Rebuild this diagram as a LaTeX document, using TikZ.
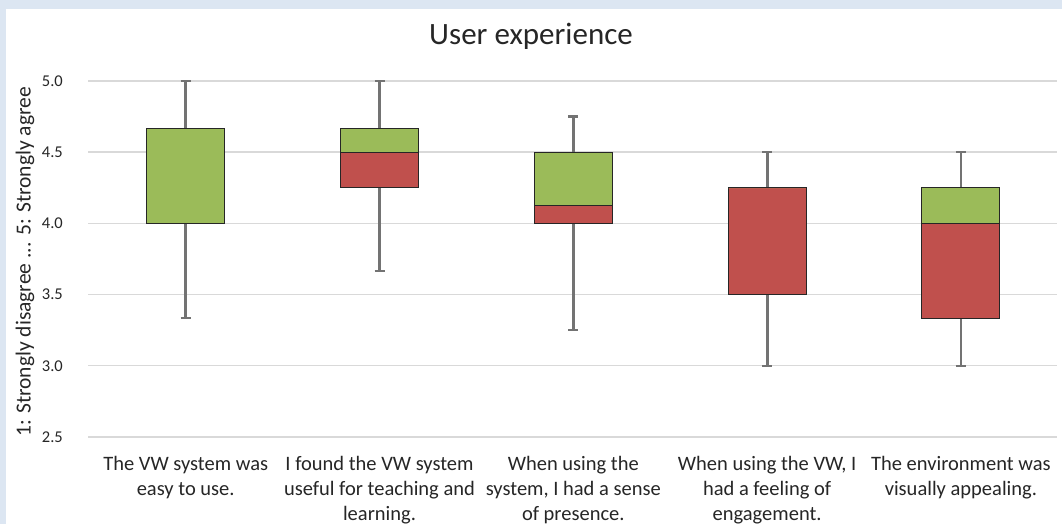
\documentclass[tikz,border=0pt]{standalone}
\usepackage{fontspec}
\setmainfont{Carlito}
\definecolor{frameblue}{HTML}{DCE6F2}
\definecolor{gridgray}{HTML}{D9D9D9}
\definecolor{whiskgray}{HTML}{737373}
\definecolor{boxgreen}{HTML}{9BBB59}
\definecolor{boxred}{HTML}{C0504D}
\definecolor{txt}{HTML}{262626}
\tikzset{
  gridline/.style={draw=gridgray, line width=1.4pt},
  whisker/.style={draw=whiskgray, line width=2.8pt},
  whiskcap/.style={draw=whiskgray, line width=2.2pt},
  upperbox/.style={fill=boxgreen, draw=black!85, line width=1.1pt},
  lowerbox/.style={fill=boxred, draw=black!85, line width=1.1pt},
  ticklabel/.style={anchor=east, text=txt, inner sep=0pt, font=\fontsize{16.5}{19}\selectfont},
  catlabel/.style={anchor=north, align=center, text=txt, inner sep=0pt, font=\fontsize{20.5}{25}\selectfont},
}
\begin{document}
\begin{tikzpicture}[x=1pt, y=1pt]
  % canvas and light-blue frame
  \useasboundingbox (0,0) rectangle (1062,524);
  \fill[white] (0,0) rectangle (1062,524);
  \fill[frameblue] (0,515) rectangle (1062,524);
  \fill[frameblue] (0,0) rectangle (6,524);

  % title
  \node[text=txt, font=\fontsize{31}{35}\selectfont] (title) at (531,488) {User experience};

  % axis title
  \node[rotate=90, text=txt, font=\fontsize{21.5}{24}\selectfont] (ylabel) at (25,262)
    {1: Strongly disagree ... 5: Strongly agree};

  % value axis: y = 142.4*v - 269
  \begin{scope}[y=142.4pt, yshift=-269pt]
    \foreach \v/\lab in {2.5/2.5, 3/3.0, 3.5/3.5, 4/4.0, 4.5/4.5, 5/5.0} {
      \draw[gridline] (88,\v) -- (1057,\v);
      \node[ticklabel] (tick\lab) at (63,\v) {\lab};
    }

    % boxes: center / min / Q1 / median / Q3 / max
    \foreach \i/\cx/\lo/\qa/\md/\qb/\hi in {
        1/185.7/3.3333/4.0/4.0/4.6667/5.0,
        2/379.5/3.6667/4.25/4.5/4.6667/5.0,
        3/573.3/3.25/4.0/4.125/4.5/4.75,
        4/767.1/3.0/3.5/4.25/4.25/4.5,
        5/960.9/3.0/3.3333/4.0/4.25/4.5} {
      \coordinate (wlo\i) at (\cx,\lo);
      \coordinate (whi\i) at (\cx,\hi);
      \draw[whisker] (wlo\i) -- (whi\i);
      \draw[whiskcap] ([xshift=-5pt]wlo\i) -- ([xshift=5pt]wlo\i);
      \draw[whiskcap] ([xshift=-5pt]whi\i) -- ([xshift=5pt]whi\i);
      \draw[lowerbox] (\cx-39,\qa) rectangle (\cx+39,\md);
      \draw[upperbox] (\cx-39,\md) rectangle (\cx+39,\qb);
    }
  \end{scope}

  % category labels
  \node[catlabel] (cat1) at (185.7,68) {The VW system was\\easy to use.};
  \node[catlabel] (cat2) at (379.5,68) {I found the VW system\\useful for teaching and\\learning.};
  \node[catlabel] (cat3) at (573.3,68) {When using the\\system, I had a sense\\of presence.};
  \node[catlabel] (cat4) at (767.1,68) {When using the VW, I\\had a feeling of\\engagement.};
  \node[catlabel] (cat5) at (960.9,68) {The environment was\\visually appealing.};
\end{tikzpicture}
\end{document}
